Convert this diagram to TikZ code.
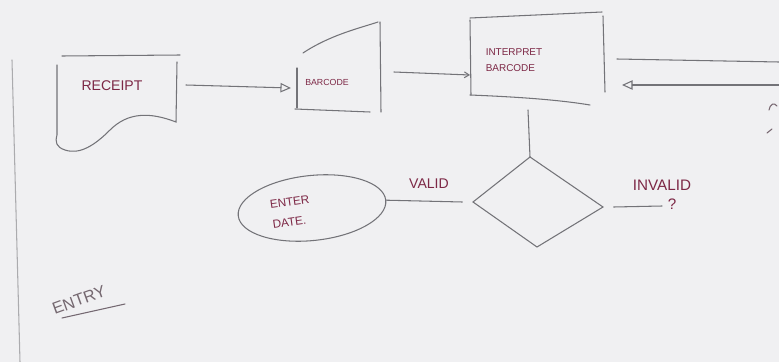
\documentclass[tikz,border=0pt]{standalone}
\usepackage{fontspec}
\setmainfont{Liberation Sans}
\usetikzlibrary{arrows.meta, shapes.geometric}
\definecolor{paper}{RGB}{240,240,242}
\definecolor{pencil}{RGB}{115,115,120}
\definecolor{marker}{RGB}{125,40,70}

\begin{document}
\begin{tikzpicture}[x=0.03cm, y=-0.03cm,
  pen/.style={draw=pencil, line width=0.9pt, line cap=round},
  ink/.style={text=marker, inner sep=0pt},
  opentip/.style={-{Triangle[open,length=9pt,width=8pt]}},
  barb/.style={-{Straight Barb[length=4pt,width=5pt]}}]
  \fill[paper] (0,0) rectangle (779,362);
  \useasboundingbox (0,0) rectangle (779,362);
  % margin
  \draw[pen, draw=pencil!60] (12,60) -- (20,362);
  % receipt
  \draw[pen] (62,56) -- (180,55);
  \draw[pen] (177,62) -- (176,122) .. controls (150,112) and (128,112) .. (110,130)
    .. controls (95,145) and (80,155) .. (65,150) .. controls (56,147) and (55,142) .. (57,135) -- (57,65);
  \node[ink, font=\fontsize{12}{12}\selectfont] (receipt) at (112,86) {RECEIPT};
  \coordinate (receipt-e) at (186,85);
  % barcode
  \draw[pen] (297,68) -- (297,108);
  \draw[pen] (303,53) .. controls (330,35) and (360,28) .. (378,22);
  \draw[pen] (380,22) -- (381,112);
  \draw[pen] (295,109) -- (370,112);
  \node[ink, font=\fontsize{7.5}{8}\selectfont] (barcode) at (327,82) {BARCODE};
  \coordinate (barcode-w) at (291,88);
  \coordinate (barcode-e) at (394,72);
  % interpret barcode
  \draw[pen] (470,18) -- (602,12);
  \draw[pen] (470,20) -- (471,95);
  \draw[pen] (470,95) .. controls (520,97) and (560,100) .. (590,105);
  \draw[pen] (603,16) -- (605,92);
  \node[ink, font=\fontsize{8.5}{14}\selectfont, align=left] (interpret) at (514,60) {INTERPRET\\BARCODE};
  \coordinate (interpret-w) at (470,75);
  \coordinate (interpret-s) at (528,110);
  \coordinate (interpret-ne) at (617,59);
  \coordinate (interpret-e) at (622,85);
  \coordinate (off-top) at (779,62);
  \coordinate (off-bot) at (779,85);
  % connectors
  \draw[pen, opentip] (receipt-e) -- (barcode-w);
  \draw[pen, barb] (barcode-e) -- (interpret-w);
  \draw[pen] (interpret-ne) -- (off-top);
  \draw[pen, opentip] (off-bot) -- (interpret-e);
  % marks at the edge
  \draw[pen, draw=pencil!80!marker] (769,110) .. controls (770,104) and (774,102) .. (777,106);
  \draw[pen, draw=pencil!80!marker] (767,133) -- (772,129);
  % decision
  \coordinate (dia-n) at (530,157);
  \coordinate (dia-w) at (473,202);
  \coordinate (dia-s) at (537,247);
  \coordinate (dia-e) at (603,207);
  \draw[pen] (dia-n) -- (dia-e) -- (dia-s) -- (dia-w) -- cycle;
  \draw[pen] (interpret-s) -- (dia-n);
  \coordinate (invalid-end) at (662,206);
  \draw[pen] ([xshift=9]dia-e) -- (invalid-end);
  \node[ink, font=\fontsize{13}{13}\selectfont] (invalid) at (662,185) {INVALID};
  \node[ink, font=\fontsize{13}{13}\selectfont] (query) at (672,204) {?};
  % enter date
  \node[pen, ellipse, rotate=6, minimum width=4.45cm, minimum height=1.95cm] (enter) at (312,208) {};
  \node[ink, font=\fontsize{10}{17}\selectfont, align=left, rotate=8] (enter text) at (291,212) {ENTER\\DATE.};
  \draw[pen] (enter.east) -- ([xshift=-9]dia-w);
  \node[ink, font=\fontsize{12}{12}\selectfont] (valid) at (429,184) {VALID};
  % entry
  \node[text=pencil!85!marker, font=\fontsize{14}{14}\selectfont, rotate=20] (entry) at (79,300) {ENTRY};
  \coordinate (entry-a) at (62,318);
  \coordinate (entry-b) at (125,304);
  \draw[pen, draw=pencil!85!marker] (entry-a) -- (entry-b);
\end{tikzpicture}
\end{document}
